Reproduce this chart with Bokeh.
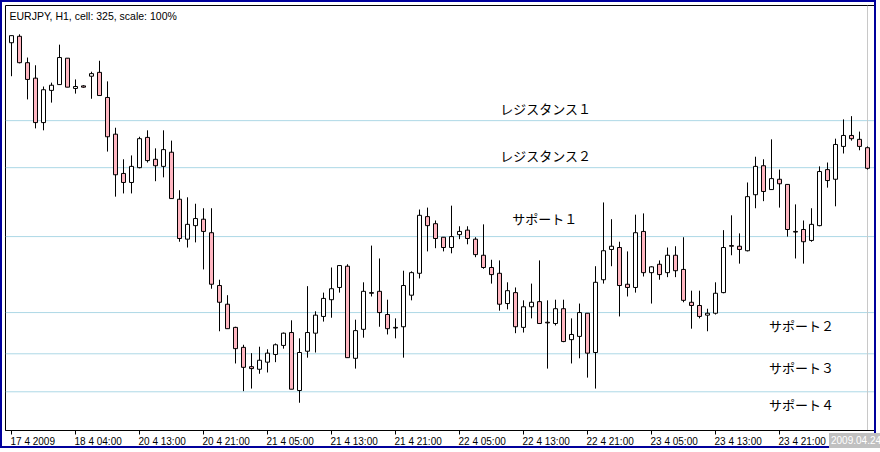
from bokeh.plotting import figure
from bokeh.models import (Range1d, FixedTicker, LinearAxis, Span, Label, Div,
                          ColumnDataSource, CustomJSTickFormatter)
from bokeh.layouts import column
from bokeh.core.properties import value
from bokeh.embed import file_html
from bokeh.resources import INLINE

# ---------------- data (EURJPY H1) ----------------
opens = [131.03, 131.13, 130.72, 130.48, 129.79, 130.29, 130.38, 130.79, 130.32, 130.36,
         130.51, 130.57, 130.18, 129.61, 129.00, 128.86, 129.09, 129.56, 129.22, 129.11,
         129.33, 128.60, 127.98, 128.19, 128.29, 128.08, 127.26, 126.97, 126.61, 126.30,
         126.00, 125.96, 126.07, 126.19, 126.33, 126.53, 125.63, 126.24, 126.52, 126.78,
         127.04, 127.23, 127.56, 126.13, 126.58, 127.15, 127.17, 126.81, 126.61, 126.62,
         127.11, 127.45, 128.33, 128.22, 128.01, 127.85, 128.05, 128.12, 127.98, 127.73,
         127.54, 127.45, 126.98, 127.15, 126.61, 126.93, 127.01, 126.69, 126.67, 126.90,
         126.42, 126.47, 126.83, 126.22, 127.35, 127.82, 127.85, 127.28, 127.23, 128.10,
         127.46, 127.59, 127.46, 127.73, 127.51, 127.00, 126.95, 126.80, 126.83, 127.15,
         127.88, 127.87, 127.80, 128.67, 129.12, 128.75, 128.91, 128.83, 128.10, 128.13,
         127.96, 128.19, 129.06, 128.91, 129.42, 129.59, 129.53, 129.40]
highs = [131.14, 131.16, 130.80, 130.68, 130.35, 130.41, 131.00, 130.79, 130.46, 130.37,
         130.58, 130.75, 130.43, 129.71, 129.22, 129.28, 129.57, 129.67, 129.39, 129.67,
         129.51, 128.74, 128.63, 128.53, 128.46, 128.46, 127.35, 127.11, 126.62, 126.34,
         126.21, 126.31, 126.27, 126.36, 126.53, 126.72, 126.44, 127.25, 126.86, 127.15,
         127.54, 127.57, 127.59, 126.73, 127.31, 127.88, 127.68, 127.04, 126.75, 127.49,
         127.48, 128.44, 128.47, 128.27, 128.01, 128.50, 128.18, 128.18, 128.01, 128.21,
         127.66, 127.65, 127.31, 127.23, 127.03, 127.29, 127.65, 127.03, 127.04, 127.04,
         126.75, 126.98, 126.83, 127.56, 128.55, 128.29, 127.94, 127.79, 128.36, 128.38,
         127.56, 127.65, 127.85, 127.87, 128.01, 127.18, 127.18, 126.90, 127.31, 128.12,
         128.35, 128.07, 128.86, 129.26, 129.22, 129.53, 129.06, 128.83, 128.52, 128.27,
         128.46, 129.11, 129.17, 129.54, 129.84, 129.89, 129.65, 129.42]
lows = [130.51, 130.71, 130.15, 129.70, 129.67, 130.10, 130.38, 130.34, 130.24, 130.33,
        130.16, 130.21, 129.34, 128.64, 128.69, 128.69, 129.08, 129.17, 128.88, 128.94,
        128.61, 127.94, 127.85, 127.93, 127.51, 127.21, 126.55, 126.59, 126.05, 125.62,
        125.66, 125.89, 125.91, 126.07, 126.28, 125.65, 125.44, 126.14, 126.22, 126.70,
        126.76, 127.15, 126.14, 125.97, 126.45, 127.09, 126.62, 126.50, 126.44, 126.14,
        127.03, 127.37, 127.79, 127.84, 127.79, 127.76, 127.98, 127.90, 127.70, 127.52,
        127.29, 126.87, 126.89, 126.52, 126.53, 126.75, 126.67, 125.97, 126.64, 126.38,
        126.05, 126.13, 125.83, 125.66, 127.29, 127.56, 126.78, 127.09, 127.15, 127.40,
        126.98, 127.35, 127.39, 127.39, 127.00, 126.59, 126.75, 126.55, 126.81, 127.14,
        127.73, 127.60, 127.79, 128.46, 128.57, 128.75, 128.47, 128.02, 127.68, 127.60,
        127.94, 128.18, 128.78, 128.49, 129.31, 129.51, 129.36, 129.06]
closes = [131.14, 130.72, 130.46, 129.79, 130.30, 130.37, 130.80, 130.34, 130.35, 130.34,
          130.55, 130.21, 129.57, 128.98, 128.86, 129.11, 129.54, 129.20, 129.12, 129.37,
          128.61, 127.99, 128.21, 128.30, 128.10, 127.28, 127.00, 126.59, 126.28, 125.99,
          125.97, 126.10, 126.21, 126.34, 126.52, 125.65, 126.22, 126.53, 126.80, 127.06,
          127.21, 127.57, 126.14, 126.56, 127.17, 127.14, 126.84, 126.59, 126.60, 127.26,
          127.46, 128.35, 128.19, 127.99, 127.85, 128.02, 128.10, 127.99, 127.74, 127.54,
          127.43, 126.97, 127.18, 126.62, 126.93, 127.00, 126.67, 126.68, 126.90, 126.39,
          126.50, 126.84, 126.21, 127.31, 127.80, 127.87, 127.26, 127.23, 128.08, 127.46,
          127.55, 127.43, 127.73, 127.49, 127.03, 126.95, 126.78, 126.83, 127.14, 127.85,
          127.87, 127.82, 128.64, 129.11, 128.72, 128.92, 128.84, 128.13, 128.09, 127.94,
          128.21, 129.03, 128.89, 129.45, 129.59, 129.54, 129.42, 129.08]

tick_labels = ["17 4 2009", "18 4 04:00", "20 4 13:00", "20 4 21:00", "21 4 05:00",
               "21 4 13:00", "21 4 21:00", "22 4 05:00", "22 4 13:00", "22 4 21:00",
               "23 4 05:00", "23 4 13:00", "23 4 21:00"]
bars_per_tick = 8

level_names = ["レジスタンス１", "レジスタンス２", "サポート１", "サポート２", "サポート３", "サポート４"]
level_prices = [129.82, 129.09, 128.02, 126.84, 126.20, 125.61]
level_anchor_bar = [61.1, 61.1, 62.6, 94.7, 94.7, 94.7]

price_ticks = [125.5, 126.0, 126.5, 127.0, 127.5, 128.0, 128.5,
               129.0, 129.5, 130.0, 130.5, 131.0, 131.5]

title_text = "EURJPY, H1, cell: 325, scale: 100%"
current_date = "2009.04.24"

# ---------------- styles ----------------
label_dy = [-12, -12, -18, 13, 14, 13]
BULL = "white"
BEAR = "#ffb6c1"
LEVEL_COLOR = "#add8e6"
BAR_PX = 8.0

n = len(opens)
xs = list(range(n))
x_start = -0.75
frame_w = 869
y_lo, y_hi = 125.009, 131.608

p = figure(width=876, height=448, output_backend="svg", toolbar_location=None,
           x_range=Range1d(x_start, x_start + frame_w / BAR_PX), y_range=Range1d(y_lo, y_hi),
           x_axis_location=None, y_axis_location=None,
           min_border_left=3, min_border_right=4, min_border_top=3, min_border_bottom=20,
           background_fill_color="white", border_fill_color="white",
           outline_line_color="black", outline_line_width=1)
p.styles = {"border": "2px solid #00009c"}
p.xgrid.grid_line_color = None
p.ygrid.grid_line_color = None

# level lines
for pr in level_prices:
    p.add_layout(Span(location=pr, dimension="width", line_color=LEVEL_COLOR,
                      line_width=1, level="underlay"))
# current bar marker
p.add_layout(Span(location=n - 1, dimension="height", line_color="#c8c8c8",
                  line_width=1, level="underlay"))

src = ColumnDataSource(dict(
    x=xs, o=opens, h=highs, l=lows, c=closes,
    top=[max(a, b) for a, b in zip(opens, closes)],
    bottom=[min(a, b) for a, b in zip(opens, closes)],
    fill=[BULL if c >= o else BEAR for o, c in zip(opens, closes)],
))
p.segment(x0="x", y0="h", x1="x", y1="l", source=src, line_color="black", line_width=1)
p.vbar(x="x", width=4 / BAR_PX, top="top", bottom="bottom", fill_color="fill",
       line_color="black", line_width=1, source=src)

lsrc = ColumnDataSource(dict(x=level_anchor_bar, y=level_prices, t=level_names, dy=label_dy))
p.text(x="x", y="y", text="t", y_offset="dy", source=lsrc, text_align="left",
       text_baseline="middle", text_font=value("Noto Sans CJK JP"),
       text_font_size="13px", text_color="black")

# axes: tick marks row, then left-aligned labels row
tick_pos = [i * bars_per_tick for i in range(len(tick_labels))]
ax_t = LinearAxis(ticker=FixedTicker(ticks=tick_pos),
                  formatter=CustomJSTickFormatter(code="return ''"),
                  major_tick_out=4, major_tick_in=0, minor_tick_line_color=None,
                  major_label_standoff=0, major_label_text_font_size="1px",
                  axis_line_color="black")
p.add_layout(ax_t, "below")

char_w = {" ": 2.78, ":": 2.78}
def text_w(s):
    return sum(char_w.get(ch, 5.56) for ch in s)
label_pos = [tp + (text_w(s) / 2 - 1) / BAR_PX for tp, s in zip(tick_pos, tick_labels)]
ax_l = LinearAxis(ticker=FixedTicker(ticks=label_pos),
                  formatter=CustomJSTickFormatter(args=dict(labels=tick_labels),
                                                  code="return labels[index]"),
                  major_tick_out=0, major_tick_in=0, major_tick_line_color=None,
                  minor_tick_line_color=None, axis_line_color=None,
                  major_label_standoff=1, major_label_text_font_size="10px",
                  major_label_text_font="Liberation Sans", major_label_text_color="black")
p.add_layout(ax_l, "below")

ax_r = LinearAxis(ticker=FixedTicker(ticks=price_ticks),
                  formatter=CustomJSTickFormatter(code="return ''"),
                  major_tick_out=4, major_tick_in=0, minor_tick_line_color=None,
                  major_label_standoff=0, major_label_text_font_size="1px",
                  axis_line_color="black")
p.add_layout(ax_r, "right")

p.add_layout(Label(x=x_start, y=y_hi, x_offset=4, y_offset=-4, text=title_text,
                   text_baseline="top", text_align="left", text_font="Liberation Sans",
                   text_font_size="10.5px", text_color="black"))

date_box = Div(text=current_date, styles={
    "position": "absolute", "left": "824px", "top": "428px", "width": "54px",
    "height": "15px", "overflow": "hidden", "white-space": "nowrap",
    "background-color": "#c0c0c0", "color": "white",
    "font-family": "'Liberation Sans'", "font-size": "10px", "line-height": "15px",
    "padding-left": "2px", "box-sizing": "border-box", "z-index": "5"})

root = column(p, date_box)
open("out.html", "w").write(file_html(root, INLINE))
